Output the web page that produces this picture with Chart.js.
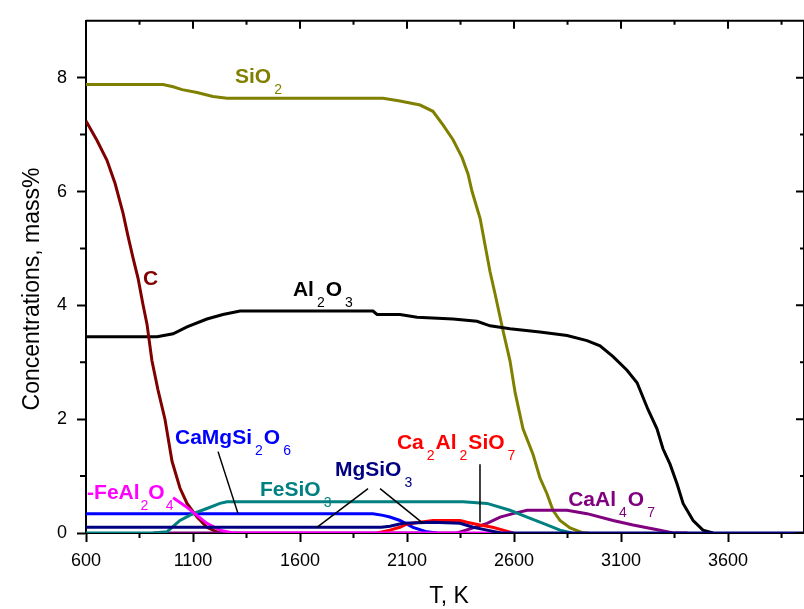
<!DOCTYPE html>
<html>
<head>
<meta charset="utf-8">
<script src="https://cdn.jsdelivr.net/npm/chart.js@4.4.0/dist/chart.umd.min.js"></script>
<style>
  html, body { margin:0; padding:0; background:#fff; }
  #wrap { width:804px; height:609px; }
</style>
</head>
<body>
<div id="wrap"><canvas id="chart"></canvas></div>
<script>
// temperatures (K) and concentrations (mass%)
const tSiO2 = [600, 960, 1007, 1049, 1119, 1193, 1259, 1988, 2067, 2161, 2221, 2268, 2315, 2357, 2385, 2404, 2442, 2465, 2488, 2512, 2549, 2581, 2605, 2642, 2689, 2721, 2754, 2782, 2815, 2862, 2922, 2950]
const cSiO2 = [7.88, 7.88, 7.84, 7.79, 7.74, 7.67, 7.64, 7.64, 7.59, 7.52, 7.41, 7.17, 6.91, 6.60, 6.31, 6.00, 5.52, 5.05, 4.59, 4.19, 3.55, 3.03, 2.47, 1.83, 1.38, 0.97, 0.69, 0.40, 0.22, 0.09, 0, 0]

const tC = [600, 651, 698, 736, 773, 796, 820, 843, 866, 885, 908, 936, 969, 1002, 1039, 1072, 1119, 1165, 1212, 1250]
const cC = [7.24, 6.90, 6.55, 6.14, 5.62, 5.22, 4.83, 4.48, 4.02, 3.67, 3.03, 2.52, 2.00, 1.26, 0.79, 0.52, 0.28, 0.10, 0.02, 0]

const tAl2O3 = [600, 932, 1007, 1072, 1165, 1240, 1320, 1941, 1960, 2067, 2147, 2315, 2427, 2488, 2581, 2721, 2848, 2941, 3002, 3063, 3128, 3175, 3226, 3268, 3296, 3329, 3362, 3390, 3437, 3483, 3530]
const cAl2O3 = [3.45, 3.45, 3.50, 3.62, 3.76, 3.84, 3.90, 3.90, 3.84, 3.84, 3.79, 3.76, 3.72, 3.64, 3.59, 3.53, 3.47, 3.38, 3.29, 3.10, 2.86, 2.64, 2.17, 1.83, 1.48, 1.21, 0.86, 0.52, 0.22, 0.05, 0]

const tFeSiO3 = [600, 913, 978, 1039, 1100, 1165, 1226, 1259, 2362, 2474, 2581, 2661, 2736, 2815, 2870]
const cFeSiO3 = [0, 0, 0.02, 0.22, 0.34, 0.43, 0.52, 0.55, 0.55, 0.52, 0.40, 0.28, 0.17, 0.05, 0]

const tCaMgSi2O6 = [600, 1941, 1988, 2020, 2067, 2128, 2193, 2240]
const cCaMgSi2O6 = [0.34, 0.34, 0.31, 0.28, 0.22, 0.10, 0.02, 0]

const tMgSiO3 = [600, 1980, 2020, 2081, 2221, 2348, 2409, 2474, 2540, 3955]
const cMgSiO3 = [0.10, 0.10, 0.12, 0.17, 0.19, 0.17, 0.10, 0.05, 0, 0]

const tCa2Al2SiO7 = [1960, 2020, 2067, 2100, 2221, 2348, 2380, 2441, 2500, 2549, 2595]
const cCa2Al2SiO7 = [0, 0.05, 0.10, 0.16, 0.22, 0.22, 0.19, 0.14, 0.10, 0.05, 0]

const tCaAl4O7 = [913, 2334, 2409, 2474, 2535, 2595, 2661, 2848, 2941, 3063, 3156, 3282, 3343, 3410]
const cCaAl4O7 = [0, 0, 0.09, 0.17, 0.28, 0.34, 0.40, 0.40, 0.34, 0.22, 0.14, 0.05, 0, 0]

const tFeAl2O4 = [1007, 1072, 1119, 1165, 1226, 1287, 2600]
const cFeAl2O4 = [0.62, 0.45, 0.31, 0.17, 0.05, 0, 0]

// axis ticks
const xTicks = [600, 1100, 1600, 2100, 2600, 3100, 3600]
const xMinor = [850, 1350, 1850, 2350, 2850, 3350, 3850]
const yTicks = [0, 2, 4, 6, 8]
const yMinor = [1, 3, 5, 7]

// label leader lines [t, c] pairs
const leadCaMgSi = [[1217, 1.43], [1310, 0.345]]
const leadMgSiA = [[1918, 0.78], [1679, 0.10]]
const leadMgSiB = [[1974, 0.78], [2175, 0.17]]
const leadCa2Al = [[2441, 1.21], [2441, 0.19]]

// curve labels: text with _x as subscript, anchor in data coords (left, baseline)
const curveLabels = [
  { txt: ['SiO', '_2'], t: 1296, c: 7.90, color: '#808000' },
  { txt: ['C'], t: 866, c: 4.36, color: '#800000' },
  { txt: ['Al', '_2', 'O', '_3'], t: 1567, c: 4.16, color: '#000000' },
  { txt: ['CaMgSi', '_2', 'O', '_6'], t: 1016, c: 1.57, color: '#0000ff' },
  { txt: ['FeSiO', '_3'], t: 1413, c: 0.655, color: '#008080' },
  { txt: ['MgSiO', '_3'], t: 1763, c: 1.00, color: '#000080' },
  { txt: ['Ca', '_2', 'Al', '_2', 'SiO', '_7'], t: 2053, c: 1.47, color: '#ff0000' },
  { txt: ['CaAl', '_4', 'O', '_7'], t: 2853, c: 0.48, color: '#800080' },
  { txt: ['-FeAl', '_2', 'O', '_4'], t: 605, c: 0.60, color: '#ff00ff', tight: true },
]

const pts = (ts, cs) => ts.map((t, i) => ({ x: t, y: cs[i] }))
const seg = (p) => p.map(v => ({ x: v[0], y: v[1] }))

function curve(label, ts, cs, color) {
  return { label, data: pts(ts, cs), borderColor: color, borderWidth: 3, showLine: true, pointRadius: 0, tension: 0 }
}
function leader(p) {
  return { label: 'lead', data: seg(p), borderColor: '#000', borderWidth: 1.5, showLine: true, pointRadius: 0 }
}

// first dataset ends up on top
var datasets = [
  leader(leadCaMgSi), leader(leadMgSiA), leader(leadMgSiB), leader(leadCa2Al),
  curve('MgSiO3', tMgSiO3, cMgSiO3, '#000080'),
  curve('FeAl2O4', tFeAl2O4, cFeAl2O4, '#ff00ff'),
  curve('Ca2Al2SiO7', tCa2Al2SiO7, cCa2Al2SiO7, '#ff0000'),
  curve('FeSiO3', tFeSiO3, cFeSiO3, '#008080'),
  curve('CaMgSi2O6', tCaMgSi2O6, cCaMgSi2O6, '#0000ff'),
  curve('CaAl4O7', tCaAl4O7, cCaAl4O7, '#800080'),
  curve('C', tC, cC, '#800000'),
  curve('Al2O3', tAl2O3, cAl2O3, '#000000'),
  curve('SiO2', tSiO2, cSiO2, '#808000'),
]

const FONT = '"Liberation Sans", Arial, sans-serif'

// frame, inward ticks on top/right, minor ticks, axis titles, curve labels
const extras = {
  id: 'extras',
  afterDatasetsDraw(chart) {
    const ctx = chart.ctx
    const a = chart.chartArea
    const xs = chart.scales.x, ys = chart.scales.y
    ctx.save()
    ctx.strokeStyle = '#000'
    ctx.lineWidth = 2
    ctx.beginPath()
    ctx.moveTo(a.left, a.top); ctx.lineTo(a.right, a.top); ctx.lineTo(a.right, a.bottom)
    ctx.stroke()
    ctx.beginPath()
    for (const v of xTicks) { const p = xs.getPixelForValue(v); ctx.moveTo(p, a.top); ctx.lineTo(p, a.top + 8) }
    for (const v of xMinor) {
      const p = xs.getPixelForValue(v)
      ctx.moveTo(p, a.top); ctx.lineTo(p, a.top + 4)
      ctx.moveTo(p, a.bottom); ctx.lineTo(p, a.bottom + 5)
    }
    for (const v of yTicks) { const p = ys.getPixelForValue(v); ctx.moveTo(a.right, p); ctx.lineTo(a.right - 8, p) }
    for (const v of yMinor) {
      const p = ys.getPixelForValue(v)
      ctx.moveTo(a.right, p); ctx.lineTo(a.right - 4, p)
      ctx.moveTo(a.left, p); ctx.lineTo(a.left - 6, p)
    }
    ctx.stroke()

    ctx.fillStyle = '#000'
    ctx.font = '23px ' + FONT
    ctx.textAlign = 'center'
    ctx.textBaseline = 'middle'
    ctx.fillText('T, K', 449, 597)
    ctx.translate(33, 289)
    ctx.rotate(-Math.PI / 2)
    ctx.fillText('Concentrations, mass%', 0, 0)
    ctx.restore()

    ctx.save()
    ctx.textAlign = 'left'
    ctx.textBaseline = 'alphabetic'
    for (const l of curveLabels) {
      let x = xs.getPixelForValue(l.t)
      const y = ys.getPixelForValue(l.c)
      ctx.fillStyle = l.color
      for (const part of l.txt) {
        if (part[0] === '_') {
          ctx.font = '14px ' + FONT
          x += l.tight ? 1 : 3
          ctx.fillText(part.slice(1), x, y + 11)
          x += ctx.measureText(part.slice(1)).width + (l.tight ? 0 : 1)
        } else {
          ctx.font = 'bold 21px ' + FONT
          ctx.fillText(part, x, y)
          x += ctx.measureText(part).width
        }
      }
    }
    ctx.restore()
  }
}

new Chart(document.getElementById('chart'), {
  type: 'scatter',
  data: { datasets },
  options: {
    responsive: true,
    maintainAspectRatio: false,
    animation: false,
    layout: { padding: { top: 12, right: 0, left: 0, bottom: 0 } },
    plugins: { legend: { display: false }, tooltip: { enabled: false } },
    scales: {
      x: {
        type: 'linear', min: 600, max: 3955,
        afterBuildTicks: (s) => { s.ticks = xTicks.map(v => ({ value: v })) },
        afterFit: (s) => { s.height = 76 },
        ticks: { color: '#000', font: { family: FONT, size: 18 }, padding: 8, maxRotation: 0, callback: (v) => String(v) },
        grid: { drawOnChartArea: false, drawTicks: true, tickLength: 9, tickWidth: 2, color: '#000' },
        border: { display: true, color: '#000', width: 2 }
      },
      y: {
        type: 'linear', min: 0, max: 9,
        afterBuildTicks: (s) => { s.ticks = yTicks.map(v => ({ value: v })) },
        afterFit: (s) => { s.width = 86 },
        ticks: { color: '#000', font: { family: FONT, size: 18 }, padding: 10, callback: (v) => String(v) },
        grid: { drawOnChartArea: false, drawTicks: true, tickLength: 9, tickWidth: 2, color: '#000' },
        border: { display: true, color: '#000', width: 2 }
      }
    }
  },
  plugins: [extras]
})
</script>
</body>
</html>
